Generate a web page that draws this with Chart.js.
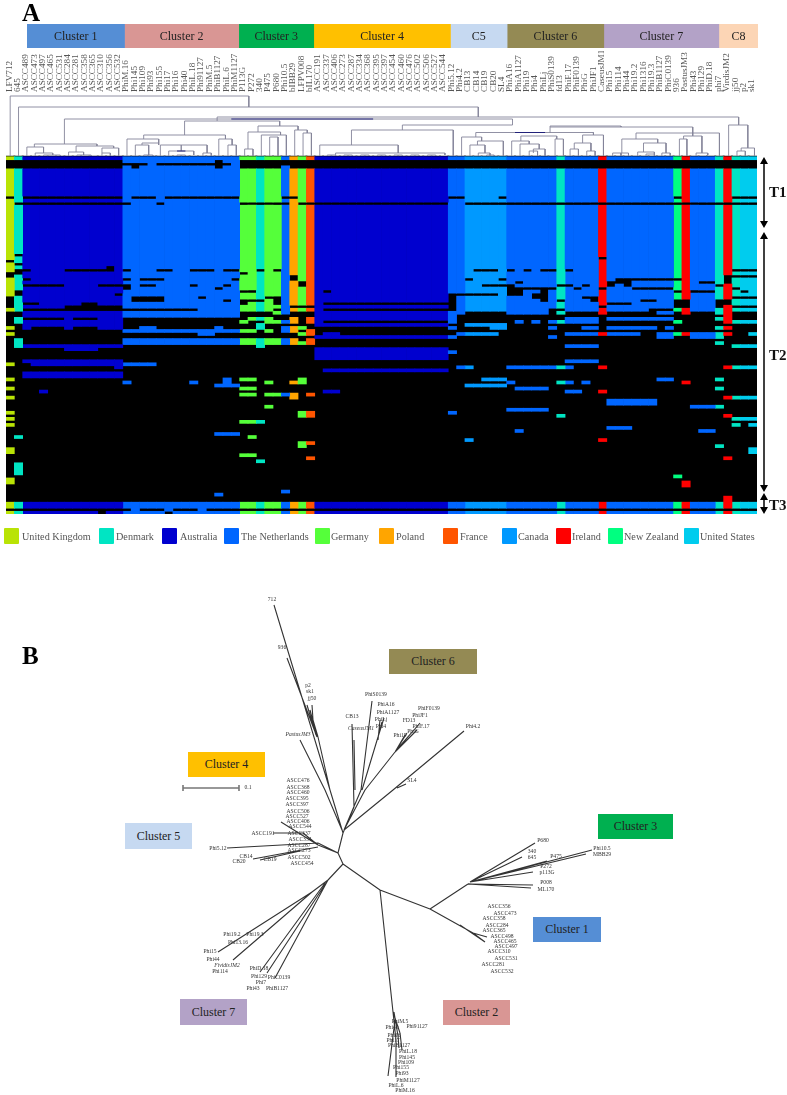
<!DOCTYPE html>
<html>
<head>
<meta charset="utf-8">
<title>Phage clusters</title>
<script src="https://cdn.jsdelivr.net/npm/chart.js@4.4.0/dist/chart.umd.min.js"></script>
<style>
  html, body { margin: 0; padding: 0; background: #fff; }
  #page { position: relative; width: 787px; height: 1095px; overflow: hidden; font-family: "Liberation Serif", serif; color: #222; }
  #page canvas { position: absolute; }
  .panel { position: absolute; font-weight: 700; font-size: 25px; line-height: 26px; color: #000; }
  .tier { position: absolute; left: 769px; font-weight: 700; font-size: 15px; line-height: 16px; color: #111; }
  .key { position: absolute; top: 528px; width: 15px; height: 16px; border-radius: 1px; }
  .key-text { position: absolute; top: 529px; font-size: 10.2px; line-height: 15px; color: #555; white-space: nowrap; }
  .box { position: absolute; display: flex; align-items: center; justify-content: center; font-size: 12px; color: #222; }
</style>
</head>
<body>
<div id="page">
  <canvas id="bandChart" width="731" height="24" style="left:27px;top:24px"></canvas>
  <canvas id="heatChart" width="787" height="556" style="left:0;top:0"></canvas>
  <canvas id="treeChart" width="787" height="539" style="left:0;top:556px"></canvas>
  <div class="panel" style="left:22px;top:0">A</div>
  <div class="panel" style="left:22px;top:643px">B</div>
  <div class="tier" style="top:184px">T1</div>
  <div class="tier" style="top:347px">T2</div>
  <div class="tier" style="top:497px">T3</div>
  <svg style="position:absolute;left:755px;top:150px" width="20" height="370" id="arrows"></svg>
</div>
<script>
// --- panel A: samples
const sampleNames = [
  'LFV712','645','ASCC489','ASCC473','ASCC497','ASCC465','ASCC531','ASCC284','ASCC281','ASCC358','ASCC365','ASCC310','ASCC356','ASCC532',
  'PhiM.16','Phi145','Phi109','Phi93','Phi155','Phi17','Phi16','Phi40','PhiL.18','Phi91127','PhiM.5','PhiB1127','PhiL.6','PhiM1127',
  'P113G','P272','340','P475','P680','Phi10.5','bIBB29','LFPV008','bIL170',
  'ASCC191','ASCC337','ASCC406','ASCC273','ASCC287','ASCC334','ASCC368','ASCC395','ASCC397','ASCC454','ASCC460','ASCC476','ASCC502','ASCC506','ASCC527','ASCC544',
  'Phi5.12','Phi4.2','CB13','CB14','CB19','CB20','SL4',
  'PhiA16','PhiA1127','Phi19','Phi4','PhiLj','PhiS0139','fd13','PhiF.17','PhiF0139','PhiG','PhiJF1','CaseusJM1',
  'Phi15','Phi114','Phi44','Phi19.2','Phi1316','Phi19.3','PhiB1127','PhiC0139','936','PastusJM3','Phi43','Phi129','PhiD.18',
  'phi7','VirdisJM2','jj50','p2','sk1'
];

const countryNames = ['United Kingdom','Denmark','Australia','The Netherlands','Germany','Poland','France','Canada','Ireland','New Zealand','United States'];
const countryColors = ['#B9E305','#00E5C3','#0000CF','#0066FF','#55FF3A','#FFA500','#FF5500','#0099FF','#FF0000','#00FF80','#00CCEE'];
const countryKeyLeft = [4,99,162,224,315,379,443,502,556,608,684];
const countryTextLeft = [22,116,180,241,331,396,460,518,572,624,700];
// index into countryNames, number of neighbouring columns
const columnCountryRuns = [
  [0,1],[1,1],[2,12],[3,14],[4,2],[1,1],[4,2],[3,1],[5,1],[4,1],[6,1],[2,16],[3,2],[7,5],[3,6],[1,1],[3,4],[8,1],[3,8],[9,1],[8,1],[3,3],[1,1],[8,1],[1,1],[10,2]
];

const clusterNames = ['Cluster 1','Cluster 2','Cluster 3','Cluster 4','C5','Cluster 6','Cluster 7','C8'];
const clusterWidths = [11.7,13.7,9,16.4,6.8,11.6,13.8,4.7];
const clusterColors = ['#558ED5','#D99694','#00B050','#FFC000','#C6D9F1','#948A54','#B3A2C7','#FCD5B5'];

const rowCount = 118;
const firstSparseRow = 50;

// rows above firstSparseRow are full except these [row, first column, last column]
const absentRuns = [
  [1,0,13],[1,25,25],[1,28,89],
  [2,0,13],[2,14,16],[2,18,26],[2,28,89],
  [3,0,13],[3,15,15],[3,25,25],[3,28,32],[3,34,89],
  [13,0,0],[13,2,13],[13,15,17],[13,19,27],[13,33,34],[13,53,54],[13,59,59],[13,80,80],[13,87,89],
  [15,1,14],[15,18,18],[15,28,33],[15,35,52],[15,55,89],
  [32,1,1],[33,71,71],[34,0,0],[35,1,1],[36,12,12],
  [37,1,2],[37,7,12],[37,14,14],[37,18,19],[37,22,24],[37,26,27],[37,30,30],[37,32,32],[37,56,58],[37,60,60],[37,62,62],[37,64,65],[37,67,67],[37,87,89],
  [38,0,1],[38,28,28],
  [39,0,0],[39,34,34],[39,86,89],
  [40,2,2],[40,14,14],[40,16,18],[40,27,27],[40,34,34],[40,55,55],[40,59,59],[40,73,80],[40,86,86],
  [41,35,35],[41,61,61],[41,72,74],[41,83,84],[41,86,86],
  [42,2,6],[42,11,14],[42,16,17],[42,22,22],[42,26,26],[42,35,35],[42,57,60],[42,66,67],[42,69,69],[42,72,72],[42,74,74],[42,85,85],
  [43,14,14],[43,25,25],[43,60,65],[43,68,68],[43,71,71],[43,75,79],[43,87,87],
  [44,1,1],[44,28,29],[44,38,38],[44,60,61],[44,64,64],[44,80,80],[44,82,84],[44,88,88],
  [45,1,1],[45,13,13],[45,53,58],[45,60,61],[45,63,64],
  [46,0,0],[46,15,18],[46,23,23],[46,31,32],[46,53,53],[46,63,64],[46,69,70],[46,87,89],
  [47,0,0],[47,15,18],[47,26,26],[47,28,30],[47,32,32],[47,53,53],[47,64,64],[47,66,66],[47,70,70],[47,76,77],[47,80,81],[47,85,86],
  [48,0,0],[48,2,3],[48,9,10],[48,28,28],[48,32,32],[48,38,53],[48,72,74],[48,80,81],[48,85,86],
  [49,0,0],[49,7,13],[49,34,36],[49,53,53],[49,71,71],[49,80,81],[49,85,85],[49,87,89]
];

// from firstSparseRow on, rows are empty except these [row, first column, last column]
const presentRuns = [
  [50,0,1],[50,23,31],[50,33,37],[50,54,64],[50,67,76],[50,80,89],
  [51,2,27],[51,32,33],[51,37,54],[51,60,64],[51,66,66],[51,71,71],[51,78,79],[51,81,81],[51,85,86],
  [52,2,27],[52,37,53],[52,86,86],
  [53,1,1],[53,7,7],[53,11,13],[53,29,31],[53,34,34],[53,36,53],[53,67,70],[53,72,79],[53,85,86],
  [54,1,13],[54,28,28],[54,31,34],[54,36,37],[54,53,53],[54,61,61],[54,63,63],[54,65,70],[54,80,80],[54,86,89],
  [55,2,13],[55,30,30],[55,37,52],[55,55,59],
  [56,0,0],[56,2,2],[56,7,7],[56,11,13],[56,16,17],[56,25,25],[56,30,30],[56,33,35],[56,53,53],[56,58,59],[56,65,65],[56,69,70],[56,72,77],[56,79,79],[56,85,86],
  [57,14,29],[57,31,31],[57,33,34],[57,36,36],
  [58,0,0],[58,23,24],[58,35,36],[58,38,39],[58,54,58],[58,67,75],[58,78,86],[58,89,89],
  [59,37,53],[59,65,65],[59,78,79],[59,82,85],
  [60,1,1],[60,14,34],[60,36,36],
  [61,1,1],[61,14,36],[61,85,85],
  [62,1,13],[62,30,30],[62,67,70],[62,87,89],
  [63,7,10],[63,37,52],[64,37,53],[65,37,52],[66,37,52],
  [67,2,13],[67,67,70],
  [68,0,0],[68,3,17],
  [69,13,13],[69,54,55],[69,60,67],[69,71,71],[69,86,89],
  [70,38,52],[71,2,13],[72,2,13],
  [73,0,0],[73,26,26],[73,28,29],[73,35,35],[73,57,59],[73,78,79],[73,85,85],
  [74,14,14],[74,22,22],[74,26,26],[74,31,31],[74,34,35],[74,60,60],[74,66,67],[74,69,69],[74,81,81],
  [75,25,27],[75,55,59],
  [76,0,0],[76,28,29],[76,61,64],[76,85,85],
  [77,4,4],[77,38,39],[77,67,68],[77,71,71],
  [78,28,29],[78,31,34],[78,36,36],
  [79,0,0],[79,34,34],[79,86,89],
  [80,72,77],[81,72,77],
  [82,31,31],[82,82,85],
  [83,60,64],
  [84,0,0],[84,35,36],[84,53,53],
  [85,35,36],[85,66,66],[85,86,86],
  [86,0,0],[86,87,89],
  [87,28,30],
  [88,0,0],[88,87,87],[88,89,89],
  [89,72,74],
  [90,61,61],[90,83,84],
  [91,25,27],
  [92,1,1],[92,29,29],
  [93,55,55],[93,71,71],
  [94,35,36],[95,35,35],[95,85,85],
  [96,0,0],[96,89,89],[97,0,0],[97,89,89],
  [98,28,29],
  [99,36,36],[99,86,86],
  [100,30,30],
  [101,1,1],[102,1,1],[103,1,1],[104,1,1],
  [105,80,80],
  [106,0,0],[107,0,0],[107,81,81],[108,81,81],
  [110,33,33],[111,25,25],
  [112,86,86],[113,86,86],
  [114,0,89],[115,0,89],
  [116,15,15],[116,19,19],[116,23,23],
  [117,0,10],[117,12,18],[117,20,89]
];

// dendrogram joins [left position, right position, height, left leg down to, right leg down to]
const dendroLinks = [
  [0.5,29.1,60,0,49],[1.5,56.6,49,0,39],[25.3,87.8,39,35,31],[7,60.7,37,12,37],[21.4,32.8,35,21,30],
  [47.5,60.7,31,26,37],[41.4,53.6,26,11,0],[37.6,47,11,0,3],[39.5,52.6,3,0,1],
  [38.5,39.5,1,0,0],[40.5,41.5,1,0,0],[42.5,43.5,1,0,0],[44.5,45.5,1,0,0],[46.5,47.5,1,0,0],[48.5,49.5,1,0,0],[50.5,51.5,1,0,0],
  [86.6,88.9,31,0,8],[88.1,89.7,8,5,0],[87.6,88.6,5,0,0],
  [65.2,73.7,30,29,29],[65.2,82.3,29,23,23],[56.3,70.4,23.5,19,21],[54.6,57,19,0,15],[56.5,59.6,15,11,0],[55.6,57.4,11,0,3],[56.6,58,3,0,1],[57.6,58.5,1,0,0],
  [61.7,66,20,15,17],[60.6,62.7,15,0,12],[61.6,63.9,12,0,7],[63.2,64.6,7,3,0],[62.7,63.7,5,0,0],[65.8,66.8,17,0,0],
  [69.1,71.6,21,13,0],[68.1,70.1,13,7,5],[67.6,68.6,7,0,0],[69.6,70.6,5,0,0],
  [75.5,82.3,23,17,20],[73.8,78.1,17,3,13],[72.7,73.7,3,0,0],[73.7,74.6,3,0,0],[76.4,79.1,13,4,3],[75.7,77.7,4,0,2],[76.7,77.7,2,0,0],[78.6,79.6,3,0,0],
  [81.2,83.4,20,17,3],[80.7,81.6,17,0,0],[82.7,84.1,3,0,1],[82.3,85.5,23,23,0],
  [3.4,10.9,12,9,10],[2.5,4.5,9,0,3],[3.5,5.6,3,0,1],[4.5,6.5,1,0,0],[8.4,12.9,10,4,8],[7.5,9.3,4,0,1],[8.5,10.2,1,0,0],[11.5,13.5,8,3,0],[11.5,12.5,3,0,0],
  [16.5,26.3,21,17,17],[14.5,18.3,17,0,13],[16.3,18.3,13,11,11],[15.5,17.1,11,0,1],[16.5,17.6,1,0,0],[18.5,24.1,11,0,3],[19.5,22.5,5,0,1],[21,21,11,5,5],[20.5,21.5,1,0,0],[23.6,24.6,3,0,0],
  [25.5,27.1,17,0,11],[26.6,27.6,11,0,0],
  [30.2,35,30,24,26],[29,32.9,24,7,21],[28.6,29.6,7,0,0],[30.6,33.6,21,0,0],[31.6,32.6,19,0,0],[34.6,36.1,26,0,23],[35.6,36.6,23,0,0]
];
// the few joins printed in dark blue [left, right, height]
const dendroDarkLinks = [[27,44,37],[61,64.6,23.5],[20.5,21.5,5]];

// --- panel B: unrooted tree
const treeBranches = [
  [343,833,338,853],[338,853,343,864],[338,853,318,845],[318,845,281,822],[273,833,303,833],[303,833,318,845],
  [227,848,318,843],[318,843,338,853],[253,859,318,847],[260,860,300,851],
  [343,833,330,790],[330,790,274,605],[317,737,287,658],[307,705,316,735],[310,710,317,737],[312,705,313,720],[313,720,318,737],[318,737,330,790],
  [300,740,325,790],[325,790,342,830],[352,724,354,807],[354,807,343,833],[354,740,355,790],
  [372,701,361,790],[361,790,344,830],[378,737,362,790],[382,722,378,737],[380,720,378,740],[384,718,378,737],
  [395,752,365,790],[365,790,344,830],[395,752,420,723],[395,752,417,730],[395,752,407,733],[398,748,413,731],[395,752,405,735],
  [464,731,393,790],[393,790,344,830],[406,784,397,788],
  [343,864,380,890],[380,890,430,909],[430,909,468,884],
  [470,882,535,843],[470,882,522,857],[470,882,547,861],[470,882,592,850],[470,882,586,854],[470,882,533,872],[468,884,533,885],[468,884,531,888],
  [430,909,473,933],[473,933,487,937],[473,933,485,942],[460,925,485,942],
  [380,890,393,1012],[393,1012,396,1040],[396,1040,396,1077],[393,1012,400,1033],[400,1033,402,1050],[394,1012,398,1036],[398,1036,399,1048],[395,1020,388,1076],
  [343,864,328,880],[328,880,312,892],[312,892,218,952],[312,892,233,960],[328,880,275,978],[328,880,267,973],[325,883,260,972]
];
const scaleBarSegments = [[183,788,239,788],[183,785,183,791],[239,785,239,791]];

const treeLabelNames = [
  '712','936','p2','sk1','jj50','PastusJM3','CB13','CaseusJM1','PhiS0139','PhiA16','PhiA1127','PhiLj','Phi4','PhiF0139','PhiJF1','FD13','PhiF.17','PhiG','Phi19','Phi4.2','SL4',
  'ASCC476','ASCC368','ASCC460','ASCC395','ASCC397','ASCC506','ASCC527','ASCC406','ASCC544','ASCC337','ASCC191','ASCC334','ASCC287','ASCC273','ASCC502','ASCC454',
  'Phi5.12','CB14','CB20','CB19','0.1',
  'Phi19.2','Phi19.3','Phi13.16','Phi15','Phi44','FividisJM2','Phi114','PhiD.18','Phi129','PhiC0139','Phi7','Phi43','PhiB1127',
  'PhiM.5','Phi91127','Phi40','Phi16','Phi17','PhiB1127','PhiL.18','Phi145','Phi109','Phi155','Phi93','PhiM1127','PhiL.6','PhiM.16',
  'P680','340','645','P475','Phi10.5','MBB29','P272','p113G','P008','ML170',
  'ASCC356','ASCC473','ASCC358','ASCC284','ASCC365','ASCC498','ASCC465','ASCC497','ASCC310','ASCC531','ASCC281','ASCC532'
];
const treeLabelX = [
  272,282,308,310,312,298,352,361,376,386,388,381,381,429,420,409,421,413,400,473,412,
  298,298,298,297,297,298,297,298,300,299,263,300,299,299,299,302,
  218,246,239,270,248,
  232,255,238,210,213,227,220,259,259,279,261,253,277,
  400,417,392,394,393,399,408,407,406,401,402,408,396,405,
  543,532,532,556,602,602,546,547,546,546,
  499,505,494,497,494,502,505,506,499,506,493,502
];
const treeLabelY = [
  600,648,686,692,699,735,717,729,695,705,713,720,727,709,716,721,727,732,736,727,781,
  781,788,793,799,805,812,817,822,827,834,834,840,846,851,858,864,
  849,857,862,860,788,
  935,935,943,952,960,966,972,969,977,978,983,989,989,
  1022,1027,1028,1036,1041,1046,1052,1058,1063,1068,1074,1081,1086,1091,
  841,852,858,857,849,855,867,873,883,890,
  907,914,919,926,931,937,942,947,952,959,965,972
];
const treeItalicNames = ['PastusJM3','CaseusJM1','FividisJM2'];

const treeBoxNames = ['Cluster 1','Cluster 2','Cluster 3','Cluster 4','Cluster 5','Cluster 6','Cluster 7'];
const treeBoxRects = [[533,917,68,25],[443,1000,67,25],[598,814,75,25],[188,752,77,25],[125,823,67,26],[389,649,88,25],[180,999,67,26]];

// --- build
const page = document.getElementById('page');
const columnCountry = [];
columnCountryRuns.forEach(([country, n]) => { for (let i = 0; i < n; i++) columnCountry.push(country); });

const rows = [];
for (let r = 0; r < rowCount; r++) rows.push(new Array(sampleNames.length).fill(r < firstSparseRow));
absentRuns.forEach(([r, a, b]) => { for (let c = a; c <= b; c++) rows[r][c] = false; });
presentRuns.forEach(([r, a, b]) => { for (let c = a; c <= b; c++) rows[r][c] = true; });

// each column becomes a stack of floating bars, one per unbroken stretch of rows
const columnStretches = sampleNames.map((_, c) => {
  const out = [];
  let start = null;
  for (let r = 0; r <= rowCount; r++) {
    const on = r < rowCount && rows[r][c];
    if (on && start === null) start = r;
    if (!on && start !== null) { out.push([start, r]); start = null; }
  }
  return out;
});
const layerCount = Math.max(...columnStretches.map(s => s.length));

function linkPoints(links) {
  const pts = [];
  links.forEach(([xl, xr, h, hl, hr]) => {
    pts.push({x: xl, y: hl}, {x: xl, y: h}, {x: xr, y: h}, {x: xr, y: hr}, {x: null, y: null});
  });
  return pts;
}
function segmentPoints(segments) {
  const pts = [];
  segments.forEach(([x1, y1, x2, y2]) => { pts.push({x: x1, y: y1}, {x: x2, y: y2}, {x: null, y: null}); });
  return pts;
}

const heatDatasets = [];
for (let k = 0; k < layerCount; k++) {
  heatDatasets.push({
    label: 'stretch ' + k,
    order: 5,
    grouped: false,
    barPercentage: 1,
    categoryPercentage: 1,
    data: columnStretches.map(s => s[k] || null),
    backgroundColor: columnCountry.map(c => countryColors[c]),
    yAxisID: 'y'
  });
}
heatDatasets.push({
  label: 'absent',
  order: 10,
  grouped: false,
  barPercentage: 1,
  categoryPercentage: 1,
  inflateAmount: 1,
  data: sampleNames.map(() => [0, rowCount]),
  backgroundColor: '#000',
  yAxisID: 'y'
});
heatDatasets.push({
  type: 'line',
  label: 'dendrogram',
  order: 1,
  data: linkPoints(dendroLinks),
  borderColor: '#85859a',
  borderWidth: 0.9,
  pointRadius: 0,
  xAxisID: 'xTree',
  yAxisID: 'yTree'
});
heatDatasets.push({
  type: 'line',
  label: 'dendrogram dark',
  order: 0,
  data: dendroDarkLinks.flatMap(([a, b, h]) => [{x: a, y: h}, {x: b, y: h}, {x: null, y: null}]),
  borderColor: '#22227a',
  borderWidth: 1,
  pointRadius: 0,
  xAxisID: 'xTree',
  yAxisID: 'yTree'
});

new Chart(document.getElementById('heatChart'), {
  type: 'bar',
  data: { labels: sampleNames, datasets: heatDatasets },
  options: {
    responsive: false,
    animation: false,
    devicePixelRatio: 1,
    events: [],
    layout: { padding: { left: 6, right: 30, top: 51, bottom: 42 } },
    plugins: { legend: { display: false }, tooltip: { enabled: false } },
    scales: {
      x: {
        position: 'top',
        grid: { display: false, drawTicks: false },
        border: { display: false },
        ticks: {
          autoSkip: false, minRotation: 90, maxRotation: 90, padding: 3, labelOffset: 10,
          color: '#555', font: { family: 'Liberation Serif', size: 9.2 }
        },
        afterFit: s => { s.height = 44; s.paddingLeft = 0; s.paddingRight = 0; }
      },
      y: { display: false, reverse: true, min: -20.36, max: 117.9 },
      xTree: { type: 'linear', display: false, offset: false, min: 0, max: 90 },
      yTree: { type: 'linear', display: false, min: -358, max: 61 }
    }
  }
});

// cluster names sit on their bars
const bandLabels = {
  id: 'bandLabels',
  afterDatasetsDraw(chart) {
    const ctx = chart.ctx;
    ctx.save();
    ctx.font = '12px "Liberation Serif"';
    ctx.fillStyle = '#222';
    ctx.textAlign = 'center';
    ctx.textBaseline = 'middle';
    chart.data.datasets.forEach((ds, i) => {
      const bar = chart.getDatasetMeta(i).data[0];
      ctx.fillText(ds.label, (bar.x + bar.base) / 2, bar.y + 0.5);
    });
    ctx.restore();
  }
};
new Chart(document.getElementById('bandChart'), {
  type: 'bar',
  data: {
    labels: ['Clusters'],
    datasets: clusterNames.map((name, i) => ({
      label: name, data: [clusterWidths[i]], backgroundColor: clusterColors[i],
      barPercentage: 1, categoryPercentage: 1
    }))
  },
  options: {
    indexAxis: 'y',
    responsive: false,
    animation: false,
    devicePixelRatio: 1,
    events: [],
    plugins: { legend: { display: false }, tooltip: { enabled: false } },
    scales: {
      x: { display: false, stacked: true, min: 0, max: clusterWidths.reduce((a, b) => a + b, 0) },
      y: { display: false, stacked: true }
    }
  },
  plugins: [bandLabels]
});

const treeLabels = {
  id: 'treeLabels',
  afterDatasetsDraw(chart) {
    const ctx = chart.ctx, sx = chart.scales.x, sy = chart.scales.y;
    ctx.save();
    ctx.fillStyle = '#333';
    ctx.textAlign = 'center';
    ctx.textBaseline = 'middle';
    treeLabelNames.forEach((name, i) => {
      const it = treeItalicNames.includes(name) ? 'italic ' : '';
      ctx.font = it + '5.6px "Liberation Serif"';
      ctx.fillText(name, sx.getPixelForValue(treeLabelX[i]), sy.getPixelForValue(treeLabelY[i]));
    });
    ctx.restore();
  }
};
new Chart(document.getElementById('treeChart'), {
  type: 'line',
  data: {
    datasets: [
      { label: 'branches', data: segmentPoints(treeBranches), borderColor: '#333', borderWidth: 1.1, pointRadius: 0 },
      { label: 'scale', data: segmentPoints(scaleBarSegments), borderColor: '#777', borderWidth: 1.6, pointRadius: 0 }
    ]
  },
  options: {
    responsive: false,
    animation: false,
    devicePixelRatio: 1,
    events: [],
    plugins: { legend: { display: false }, tooltip: { enabled: false } },
    scales: {
      x: { type: 'linear', display: false, offset: false, min: 0, max: 787 },
      y: { type: 'linear', display: false, reverse: true, min: 556, max: 1095 }
    }
  },
  plugins: [treeLabels]
});

// legend, cluster boxes, arrows are plain page elements
countryNames.forEach((name, i) => {
  const key = document.createElement('div');
  key.className = 'key';
  key.style.left = countryKeyLeft[i] + 'px';
  key.style.background = countryColors[i];
  page.appendChild(key);
  const txt = document.createElement('div');
  txt.className = 'key-text';
  txt.style.left = countryTextLeft[i] + 'px';
  txt.textContent = name;
  page.appendChild(txt);
});
treeBoxNames.forEach((name, i) => {
  const [x, y, w, h] = treeBoxRects[i];
  const box = document.createElement('div');
  box.className = 'box';
  box.style.cssText = `left:${x}px;top:${y}px;width:${w}px;height:${h}px;background:${clusterColors[i]}`;
  box.textContent = name;
  page.appendChild(box);
});
const arrowSpans = [[7,78],[82,342],[343,364]];
document.getElementById('arrows').innerHTML = arrowSpans.map(([a, b]) =>
  `<path d="M9 ${a + 5}V${b - 5}" stroke="#000" stroke-width="1.5"/>` +
  `<path d="M9 ${a}l-4 7h8zM9 ${b}l-4 -7h8z" fill="#000"/>`).join('');
</script>
</body>
</html>
